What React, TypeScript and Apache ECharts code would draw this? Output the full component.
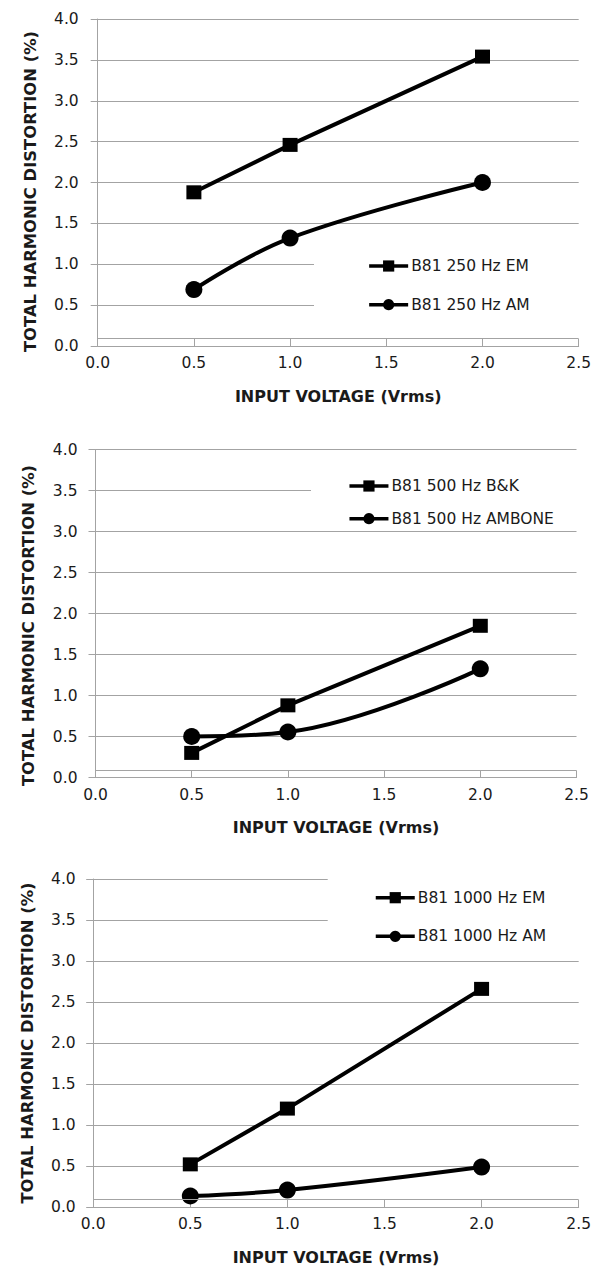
import React, { useEffect, useRef } from "react";
import * as echarts from "echarts";

const xValues = [0.5, 1.0, 2.0];
const em250 = [1.88, 2.46, 3.54];
const am250 = [0.69, 1.32, 2.0];
const bk500 = [0.3, 0.88, 1.85];
const ambone500 = [0.5, 0.555, 1.325];
const em1000 = [0.52, 1.2, 2.66];
const am1000 = [0.134, 0.207, 0.487];

const names = [
  ["B81 250 Hz EM", "B81 250 Hz AM"],
  ["B81 500 Hz B&K", "B81 500 Hz AMBONE"],
  ["B81 1000 Hz EM", "B81 1000 Hz AM"],
];
const seriesValues = [
  [em250, am250],
  [bk500, ambone500],
  [em1000, am1000],
];
const xAxisTitle = "INPUT VOLTAGE (Vrms)";
const yAxisTitle = "TOTAL HARMONIC DISTORTION (%)";

const FONT = "DejaVu Sans";
const GRIDC = "#a3a3a3";
const TEXTC = "#1a1a1a";

const grids = [
  { left: 97.7, top: 19, width: 482.6, height: 327 },
  { left: 95.5, top: 449.5, width: 481, height: 328 },
  { left: 93.2, top: 879, width: 487.1, height: 328 },
];
const yNameGaps = [59, 59, 58];
const yNameShift = [18, 24, 0];
const yLabelMargins = [19, 18, 17.5];
const legends = [
  { left: 314, top: 240, padding: [18, 70, 12, 53.4], itemGap: 22.7 },
  { left: 311, top: 458, padding: [20, 70, 4, 36.7], itemGap: 16.7 },
  { left: 327.7, top: 868, padding: [21.7, 70, 10, 46.3], itemGap: 22.6 },
];

export default function App() {
  const ref = useRef<HTMLDivElement>(null);
  useEffect(() => {
    if (!ref.current) return;
    const chart = echarts.init(ref.current, null, { renderer: "svg" });
    const xAxes: any[] = [];
    const yAxes: any[] = [];
    const series: any[] = [];
    const legendArr: any[] = [];
    for (let g = 0; g < 3; g++) {
      xAxes.push({
        type: "value",
        gridIndex: g,
        min: 0,
        max: 2.5,
        interval: 0.5,
        name: xAxisTitle,
        nameLocation: "middle",
        nameGap: 42,
        nameTextStyle: { fontFamily: FONT, fontWeight: "bold", fontSize: 16, color: TEXTC },
        axisLine: { show: true, lineStyle: { color: GRIDC, width: 1 } },
        axisTick: { show: true, inside: true, length: 7, lineStyle: { color: GRIDC } },
        axisLabel: {
          fontFamily: FONT,
          fontSize: 15.5,
          color: TEXTC,
          margin: 9,
          formatter: (v: number) => v.toFixed(1),
        },
        splitLine: { show: false },
      });
      yAxes.push({
        type: "value",
        gridIndex: g,
        min: 0,
        max: 4,
        interval: 0.5,
        name: yAxisTitle,
        nameLocation: "middle",
        nameGap: yNameGaps[g],
        nameTextStyle: {
          fontFamily: FONT,
          fontWeight: "bold",
          fontSize: 16.4,
          color: TEXTC,
          padding: [0, yNameShift[g], 0, 0],
        },
        axisLine: { show: true, lineStyle: { color: GRIDC, width: 1 } },
        axisTick: { show: true, inside: false, length: 7, lineStyle: { color: GRIDC } },
        axisLabel: {
          fontFamily: FONT,
          fontSize: 15.5,
          color: TEXTC,
          margin: yLabelMargins[g],
          formatter: (v: number) => v.toFixed(1),
        },
        splitLine: { show: true, lineStyle: { color: GRIDC, width: 1 } },
      });
      const [n1, n2] = names[g];
      const [v1, v2] = seriesValues[g];
      series.push({
        type: "line",
        name: n1,
        xAxisIndex: g,
        yAxisIndex: g,
        data: xValues.map((x, i) => [x, v1[i]]),
        symbol: "rect",
        symbolSize: [15, 14],
        lineStyle: { color: "#000", width: 4 },
        itemStyle: { color: "#000" },
        markLine: {
          silent: true,
          symbol: "none",
          label: { show: false },
          lineStyle: { color: GRIDC, width: 1, type: "solid" },
          data: [{ yAxis: 0.085 }],
        },
      });
      series.push({
        type: "line",
        name: n2,
        xAxisIndex: g,
        yAxisIndex: g,
        data: xValues.map((x, i) => [x, v2[i]]),
        symbol: "circle",
        symbolSize: 17,
        smooth: 0.4,
        lineStyle: { color: "#000", width: 4 },
        itemStyle: { color: "#000" },
      });
      const L = legends[g];
      legendArr.push({
        data: [n1, n2],
        orient: "vertical",
        left: L.left,
        top: L.top,
        padding: L.padding,
        itemGap: L.itemGap,
        itemWidth: 39,
        itemHeight: 14,
        backgroundColor: "#fff",
        lineStyle: { width: 3.5, color: "#000" },
        textStyle: {
          fontFamily: FONT,
          fontSize: 15.5,
          lineHeight: 14,
          color: TEXTC,
          padding: [0, 0, 0, -2],
        },
        selectedMode: false,
      });
    }
    chart.setOption({
      animation: false,
      backgroundColor: "#fff",
      grid: grids,
      xAxis: xAxes,
      yAxis: yAxes,
      legend: legendArr,
      series,
    });
    return () => chart.dispose();
  }, []);
  return (
    <div
      ref={ref}
      style={{ position: "absolute", left: 0, top: 0, width: 594, height: 1268 }}
    />
  );
}
